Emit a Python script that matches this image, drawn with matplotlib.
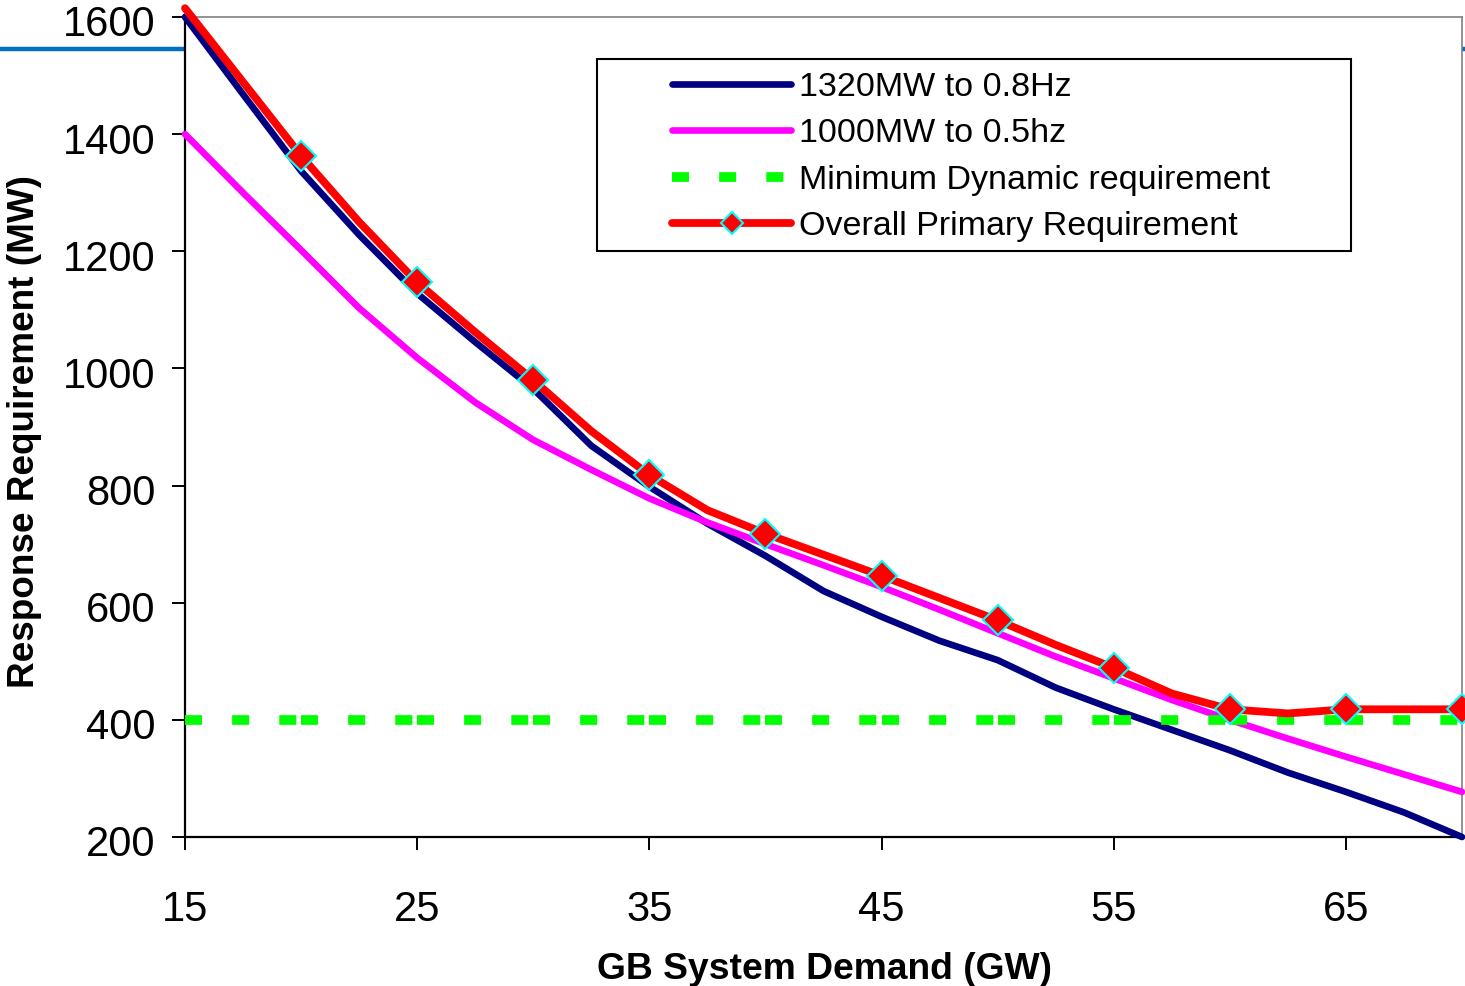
import matplotlib
matplotlib.use('Agg')
import matplotlib.pyplot as plt
import matplotlib.transforms as mtransforms
from matplotlib.lines import Line2D
from matplotlib.patches import Rectangle

plt.rcParams['font.family'] = ['Liberation Sans', 'DejaVu Sans']

# 数据 (GW, MW)
demand = [15, 17.5, 20, 22.5, 25, 27.5, 30, 32.5, 35, 37.5, 40, 42.5,
          45, 47.5, 50, 52.5, 55, 57.5, 60, 62.5, 65, 67.5, 70]
req_1320 = [1600, 1468, 1337, 1228, 1128, 1045, 965, 868, 798, 735, 680, 620,
            576, 535, 502, 455, 418, 383, 348, 310, 277, 242, 200]
req_1000 = [1400, 1300, 1202, 1103, 1018, 942, 878, 827, 778, 737, 700, 664,
            627, 588, 548, 508, 471, 434, 400, 368, 337, 307, 277]
req_overall = [1615, 1489, 1363, 1250, 1147, 1062, 980, 893, 818, 758, 718, 682,
               646, 608, 570, 528, 489, 445, 418, 411, 418, 418, 418]
demand_min = [15, 20, 25, 30, 35, 40, 45, 50, 55, 60, 65, 70]
req_min = [400, 400, 400, 400, 400, 400, 400, 400, 400, 400, 400, 400]

labels = ['1320MW to 0.8Hz', '1000MW to 0.5hz',
          'Minimum Dynamic requirement', 'Overall Primary Requirement']

fig = plt.figure(figsize=(14.65, 9.86), dpi=100)
ax = fig.add_axes([0.12628, 0.15112, 0.87167, 0.83164])

# 背景里的蓝色横线
fig.add_artist(Line2D([0, 1], [0.9498, 0.9498], color='#0070C0', lw=3.2, zorder=-1))

l1, = ax.plot(demand, req_1320, color='#000080', lw=4.8,
              solid_capstyle='round', solid_joinstyle='round', clip_on=False, zorder=3)
l2, = ax.plot(demand, req_1000, color='#FF00FF', lw=4.8,
              solid_capstyle='round', solid_joinstyle='round', clip_on=False, zorder=4)

# 绿色虚线: 每段重新开始虚线
green_lines = []
for i in range(len(demand_min) - 1):
    ln, = ax.plot(demand_min[i:i + 2], req_min[i:i + 2], color='#00FF00', lw=7,
                  dashes=(1.75, 3.1), dash_capstyle='butt', clip_on=False, zorder=5)
    green_lines.append(ln)

marks = [i for i, d in enumerate(demand) if d % 5 == 0 and d > 15]
l4, = ax.plot(demand, req_overall, color='#FF0000', lw=5.6,
              solid_capstyle='round', solid_joinstyle='round',
              marker='D', markersize=15, markerfacecolor='#FF0000',
              markeredgecolor='#00FFFF', markeredgewidth=1.5,
              markevery=marks, clip_on=False, zorder=6)

ax.set_xlim(15, 70)
ax.set_ylim(200, 1600)
ax.set_xticks([15, 25, 35, 45, 55, 65])
ax.set_yticks(range(200, 1601, 200))

ax.tick_params(axis='both', labelsize=30, width=1.4, length=9.4, direction='out')
ax.tick_params(axis='y', pad=12)
ax.tick_params(axis='x', pad=28.5)

# y轴刻度标签略微下移
offset = mtransforms.ScaledTranslation(0, -4 / 100, fig.dpi_scale_trans)
for lab in ax.get_yticklabels():
    lab.set_transform(lab.get_transform() + offset)

for s in ['left', 'bottom']:
    ax.spines[s].set_color('black')
    ax.spines[s].set_linewidth(1.6)
for s in ['top', 'right']:
    ax.spines[s].set_color('#808080')
    ax.spines[s].set_linewidth(1.2)

ax.set_xlabel('GB System Demand (GW)', fontsize=26.8, fontweight='bold', va='center')
ax.xaxis.set_label_coords(0.501, -0.1610)
ax.set_ylabel('Response Requirement (MW)', fontsize=26.6, fontweight='bold', va='center')
ax.yaxis.set_label_coords(-0.1253, 0.4945)

# 图例
leg = ax.legend([l1, l2, green_lines[0], l4], labels, loc='upper left',
                bbox_to_anchor=(0.3814, 0.9330), frameon=False, fontsize=24.5,
                handlelength=3.5, handletextpad=0.24, borderpad=0, borderaxespad=0,
                labelspacing=0.45, markerscale=0.72, numpoints=1)
leg.set_zorder(10)
ax.add_patch(Rectangle((0.3226, 0.7146), 0.5905, 0.2342, transform=ax.transAxes,
                       fill=False, ec='black', lw=1.5, zorder=9))

fig.savefig('out.png', dpi=100, facecolor='white')
